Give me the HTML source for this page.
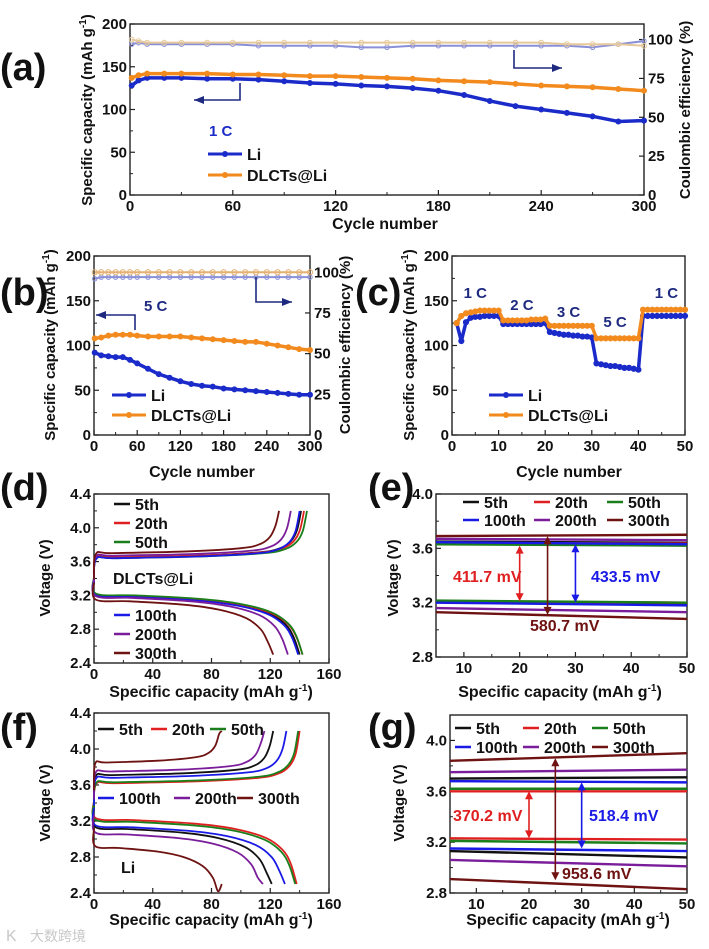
<!DOCTYPE html>
<html><head><meta charset="utf-8"><title>Battery cycling figure</title>
<style>
html,body{margin:0;padding:0;background:#fff;}
svg{display:block;font-family:"Liberation Sans",Arial,sans-serif;font-weight:bold;}
</style></head>
<body>
<svg id="chart" width="709" height="949" viewBox="0 0 709 949" xmlns="http://www.w3.org/2000/svg"></svg>
<script>
// ---------- data ----------
const aCycles=[1,5,10,20,30,45,60,75,90,105,120,135,150,165,180,195,210,225,240,255,270,285,300];
const aLi=[128,134,137,137,137,136,136,135,133,131,130,128,127,125,122,117,110,104,100,96,92,86,87];
const aDL=[137,140,142,142,142,142,141,141,140,139,139,138,137,136,134,133,132,130,128,127,126,124,122];
const aLiCE=[97,98,97,97,97,97,97,96,96,96,96,95,95,96,96,96,96,96,96,96,95,97,99];
const aDLCE=[100,99,98,98,98,98,98,98,98,98,98,98,98,98,98,98,98,98,98,97,97,97,96];
const bCycles=[1,10,20,30,40,50,60,75,90,105,120,135,150,165,180,195,210,225,240,255,270,285,300];
const bLi=[92,89,88,87,87,84,80,74,68,64,60,57,55,54,52,51,50,49,48,47,46,45,45];
const bDL=[108,109,111,112,112,112,111,110,110,110,110,109,108,107,106,105,104,104,102,100,98,96,95];
const bLiCE=[96,97,97,97,97,97,97,97,97,97,97,97,97,97,97,97,97,97,97,97,97,97,97];
const bDLCE=[100,100,100,100,100,100,100,100,100,100,100,100,100,100,100,100,100,100,100,100,100,100,100];
const cLi=[125,105,126,131,132,132,133,133,133,133,124,124,124,124,124,124,124,124,124,125,115,114,113,112,112,111,111,110,110,109,80,79,78,77,77,76,75,75,74,73,133,133,133,133,133,133,133,133,133,133];
const cDL=[125,133,136,137,138,139,139,139,139,139,128,128,128,128,128,128,129,129,129,130,122,122,122,122,122,122,122,122,122,122,108,108,108,108,108,108,108,108,108,108,140,140,140,140,140,140,140,140,140,140];
const cRateLabels=['1 C','2 C','3 C','5 C','1 C'];
const cycleNames=['5th','20th','50th','100th','200th','300th'];
const dChargeQ=[141,143,145,140,134,126];
const dChargeV=[3.64,3.64,3.63,3.63,3.66,3.69];
const dDisQ=[140,142,142,139,132,122];
const dDisV=[3.21,3.21,3.22,3.20,3.19,3.15];
const fChargeQ=[122,140,139,131,116,87];
const fChargeV=[3.70,3.61,3.62,3.67,3.74,3.84];
const fDisQ=[121,138,137,130,115,87];
const fDisV=[3.13,3.23,3.21,3.15,3.07,2.92];
const eUpStart=[3.65,3.64,3.63,3.645,3.67,3.69];
const eUpEnd=[3.64,3.635,3.62,3.63,3.66,3.70];
const eLoStart=[3.205,3.21,3.215,3.20,3.16,3.13];
const eLoEnd=[3.19,3.20,3.20,3.18,3.13,3.08];
const gUpStart=[3.70,3.60,3.62,3.68,3.75,3.84];
const gUpEnd=[3.71,3.60,3.62,3.67,3.77,3.90];
const gLoStart=[3.13,3.23,3.21,3.15,3.06,2.91];
const gLoEnd=[3.08,3.22,3.19,3.13,3.01,2.83];
const eArrowX=[20,25,30];
const eArrowTop=[3.62,3.69,3.63];
const eArrowBot=[3.21,3.11,3.20];
const eArrowLabel=['411.7 mV','580.7 mV','433.5 mV'];
const gArrowX=[20,25,30];
const gArrowTop=[3.60,3.86,3.67];
const gArrowBot=[3.23,2.90,3.15];
const gArrowLabel=['370.2 mV','958.6 mV','518.4 mV'];

// ---------- helpers ----------
const NS='http://www.w3.org/2000/svg';
const svg=document.getElementById('chart');
const COLORS=['#111111','#e02020','#1a7f1a','#1a1ae6','#7a1d9a','#6e1212'];
const BLUE='#1b2bc9', ORANGE='#f28a1e', NAVY='#1e2a80';
function mk(tag,attrs,parent){const e=document.createElementNS(NS,tag);for(const k in attrs)e.setAttribute(k,attrs[k]);(parent||svg).appendChild(e);return e;}
function text(x,y,s,size,anchor,fill,parent){const t=mk('text',{x:x,y:y,'font-size':size,'text-anchor':anchor||'start',fill:fill||'#111'},parent);t.textContent=s;return t;}
function axes(P,g){
  const X=v=>P.l+(v-P.xmin)/(P.xmax-P.xmin)*(P.r-P.l);
  const Y=v=>P.b-(v-P.ymin)/(P.ymax-P.ymin)*(P.b-P.t);
  const fr=mk('rect',{x:P.l,y:P.t,width:P.r-P.l,height:P.b-P.t,fill:'none',stroke:'#222','stroke-width':1.4},g);
  
  
  P.xt.forEach((v,i)=>{
    mk('line',{x1:X(v),x2:X(v),y1:P.b,y2:P.b-5,stroke:'#222','stroke-width':1.2},g);
    if(i<P.xt.length-1){const m=X((v+P.xt[i+1])/2);mk('line',{x1:m,x2:m,y1:P.b,y2:P.b-3,stroke:'#222','stroke-width':1},g);}
    const t=text(X(v),P.b+16,P.xfmt?P.xfmt(v):String(v),15,'middle','#111',g);
    
    
  });
  P.yt.forEach((v,i)=>{
    mk('line',{x1:P.l,x2:P.l+5,y1:Y(v),y2:Y(v),stroke:'#222','stroke-width':1.2},g);
    if(i<P.yt.length-1){const m=Y((v+P.yt[i+1])/2);mk('line',{x1:P.l,x2:P.l+3,y1:m,y2:m,stroke:'#222','stroke-width':1},g);}
    const t=text(P.l-3,Y(v)+5,P.yfmt?P.yfmt(v):String(v),15,'end','#111',g);
    
    
  });
  return {X,Y};
}
function vtitle(x,y,s,sup,after,g){
  const t=mk('text',{x:0,y:0,'font-size':15,'text-anchor':'middle',fill:'#111',transform:`translate(${x},${y}) rotate(-90)`},g);
  t.appendChild(document.createTextNode(s));
  if(sup){const sp=mk('tspan',{dy:-6,'font-size':10},t);sp.textContent=sup;const sp2=mk('tspan',{dy:6},t);sp2.textContent=after;}
  
  
  return t;
}
function htitle(x,y,s,sup,after,g){
  const t=mk('text',{x:x,y:y,'font-size':16,'text-anchor':'middle',fill:'#111'},g);
  t.appendChild(document.createTextNode(s));
  if(sup){const sp=mk('tspan',{dy:-6,'font-size':10},t);sp.textContent=sup;const sp2=mk('tspan',{dy:6},t);sp2.textContent=after;}
  
  
  return t;
}
function panelLetter(x,y,s){
  const t=text(x,y,s,38,'start','#111');
  
  
}
function smoothPath(pts){
  let d=`M${pts[0][0]},${pts[0][1]}`;
  for(let i=0;i<pts.length-1;i++){
    const p0=pts[Math.max(0,i-1)],p1=pts[i],p2=pts[i+1],p3=pts[Math.min(pts.length-1,i+2)];
    const c1=[p1[0]+(p2[0]-p0[0])/6,p1[1]+(p2[1]-p0[1])/6];
    const c2=[p2[0]-(p3[0]-p1[0])/6,p2[1]-(p3[1]-p1[1])/6];
    d+=` C${c1[0]},${c1[1]} ${c2[0]},${c2[1]} ${p2[0]},${p2[1]}`;
  }
  return d;
}
function series(xs,ys,X,Y,color,r,g,name,hollow){
  const pts=xs.map((c,i)=>[X(c),Y(ys[i])]);
  const pl=mk('polyline',{points:pts.map(p=>p.join(',')).join(' '),fill:'none',stroke:color,'stroke-width':hollow?2:3.5,'stroke-linejoin':'round'},g);
  
  
  pts.forEach(p=>{
    const c=mk('circle',{cx:p[0],cy:p[1],r:r,fill:hollow?'none':color,stroke:color,'stroke-width':1},g);
    
    
  });
}
function arrowV(x,y1,y2,color,g){
  mk('line',{x1:x,x2:x,y1:y1+6,y2:y2-6,stroke:color,'stroke-width':1.6},g);
  mk('polygon',{points:`${x},${y1} ${x-4},${y1+8} ${x+4},${y1+8}`,fill:color},g);
  mk('polygon',{points:`${x},${y2} ${x-4},${y2-8} ${x+4},${y2-8}`,fill:color},g);
}
function legendItem(x,y,len,color,label,g,lw,marker){
  mk('line',{x1:x,x2:x+len,y1:y,y2:y,stroke:color,'stroke-width':lw||2.5},g);
  if(marker){mk('circle',{cx:x+len/2,cy:y,r:3,fill:color},g);}
  const t=text(x+len+5,y+6,label,16,'start','#111',g);
  
  
}
function elbowArrow(pts,g){
  const pl=mk('polyline',{points:pts.map(p=>p.join(',')).join(' '),fill:'none',stroke:NAVY,'stroke-width':1.6},g);
  
  
  const a=pts[pts.length-2],b=pts[pts.length-1];const dir=Math.sign(b[0]-a[0]);
  mk('polygon',{points:`${b[0]},${b[1]} ${b[0]-dir*10},${b[1]-4} ${b[0]-dir*10},${b[1]+4}`,fill:NAVY},g);
}

// ---------- panel a ----------
{
const g=mk('g',{});


const P={l:130,r:644,t:24,b:195,xmin:0,xmax:300,ymin:0,ymax:200,xt:[0,60,120,180,240,300],yt:[0,50,100,150,200]};
const {X,Y}=axes(P,g);
const Yr=v=>P.b-v/110*(P.b-P.t);
[0,25,50,75,100].forEach(v=>{mk('line',{x1:P.r,x2:P.r-5,y1:Yr(v),y2:Yr(v),stroke:'#222','stroke-width':1.2},g);const t=text(P.r+4,Yr(v)+5,String(v),15,'start','#111',g);});
series(aCycles,aLiCE,X,Yr,'#8a90d8',2.2,g,'li-ce',true);
series(aCycles,aDLCE,X,Yr,'#e6c99a',2.4,g,'dlcts-ce',true);
series(aCycles,aLi,X,Y,BLUE,2.5,g,'li-capacity');
series(aCycles,aDL,X,Y,ORANGE,2.5,g,'dlcts-capacity');
elbowArrow([[240,83],[240,100],[194,100]],g);
elbowArrow([[514,50],[514,68],[562,68]],g);
const rc=text(209,136,'1 C',15,'start',BLUE,g);
legendItem(208,154,34,BLUE,'Li',g,3,true);
legendItem(208,175,34,ORANGE,'DLCTs@Li',g,3,true);
vtitle(92,110,'Specific capacity (mAh g','-1',')',g);
vtitle(690,110,'Coulombic efficiency (%)',null,null,g);
htitle(385,229,'Cycle number',null,null,g);
}
panelLetter(0,80,'(a)');

// ---------- panel b ----------
{
const g=mk('g',{});


const P={l:94,r:310,t:256,b:435,xmin:0,xmax:300,ymin:0,ymax:200,xt:[0,60,120,180,240,300],yt:[0,50,100,150,200]};
const {X,Y}=axes(P,g);
const Yr=v=>P.b-v/110*(P.b-P.t);
[0,25,50,75,100].forEach(v=>{mk('line',{x1:P.r,x2:P.r-5,y1:Yr(v),y2:Yr(v),stroke:'#222','stroke-width':1.2},g);const t=text(P.r+4,Yr(v)+5,String(v),15,'start','#111',g);});
series(bCycles,bLiCE,X,Yr,'#8a90d8',2.2,g,'li-ce',true);
series(bCycles,bDLCE,X,Yr,'#e6b070',2.6,g,'dlcts-ce',true);
series(bCycles,bLi,X,Y,BLUE,2.5,g,'li-capacity');
series(bCycles,bDL,X,Y,ORANGE,2.5,g,'dlcts-capacity');
elbowArrow([[135,330],[135,315],[96,315]],g);
elbowArrow([[256,277],[256,302],[292,302]],g);
const rc=text(144,311,'5 C',15,'start',NAVY,g);
legendItem(112,395,34,BLUE,'Li',g,3,true);
legendItem(112,415,34,ORANGE,'DLCTs@Li',g,3,true);
vtitle(55,345,'Specific capacity (mAh g','-1',')',g);
vtitle(350,345,'Coulombic efficiency (%)',null,null,g);
htitle(202,477,'Cycle number',null,null,g);
}
panelLetter(0,305,'(b)');

// ---------- panel c ----------
{
const g=mk('g',{});


const P={l:452,r:685,t:256,b:435,xmin:0,xmax:50,ymin:0,ymax:200,xt:[0,10,20,30,40,50],yt:[0,50,100,150,200]};
const {X,Y}=axes(P,g);
const cyc=cLi.map((_,i)=>i+1);
series(cyc,cLi,X,Y,BLUE,2.6,g,'li-rate');
series(cyc,cDL,X,Y,ORANGE,2.6,g,'dlcts-rate');
const rateX=[5,15,25,35,46];
const rateY=[298,310,317,327,298];
cRateLabels.forEach((s,i)=>{const t=text(X(rateX[i]),rateY[i],s,15,'middle',NAVY,g);});
legendItem(489,395,34,BLUE,'Li',g,3,true);
legendItem(489,415,34,ORANGE,'DLCTs@Li',g,3,true);
vtitle(414,345,'Specific capacity (mAh g','-1',')',g);
htitle(569,477,'Cycle number',null,null,g);
}
panelLetter(355,305,'(c)');

// ---------- voltage profile panels d & f ----------
const chF=[0,0.01,0.1,0.5,0.8,0.9,0.95,0.98,1.0];
const chD=[-0.3,0,0.01,0.03,0.07,0.12,0.2,0.33];
const dsF=[0,0.01,0.2,0.5,0.7,0.85,0.93,0.97,1.0];
const dsD=[0.2,0,-0.02,-0.06,-0.12,-0.22,-0.35,-0.5];
function profiles(P,g,cQ,cV,dQ,dV){
  const {X,Y}=axes(P,g);
  cycleNames.forEach((n,i)=>{
    const cp=chF.map((f,k)=>[X(f*cQ[i]),Y(k<chD.length?cV[i]+chD[k]:4.2)]);
    const p1=mk('path',{d:smoothPath(cp),fill:'none',stroke:COLORS[i],'stroke-width':1.8},g);
    
    
    const dp=dsF.map((f,k)=>[X(f*dQ[i]),Y(k<dsD.length?dV[i]+dsD[k]:2.5)]);
    const p2=mk('path',{d:smoothPath(dp),fill:'none',stroke:COLORS[i],'stroke-width':1.8},g);
    
    
  });
}
{
const g=mk('g',{});


const P={l:94,r:329,t:494,b:663,xmin:0,xmax:160,ymin:2.4,ymax:4.4,xt:[0,40,80,120,160],yt:[2.4,2.8,3.2,3.6,4.0,4.4],yfmt:v=>v.toFixed(1)};
profiles(P,g,dChargeQ,dChargeV,dDisQ,dDisV);
const ly=[504,523,542,615,634,653];
cycleNames.forEach((n,i)=>legendItem(114,ly[i],16,COLORS[i],n,g,2.5));
const t=text(113,584,'DLCTs@Li',16,'start','#111',g);
vtitle(50,578,'Voltage (V)',null,null,g);
htitle(211,697,'Specific capacity (mAh g','-1',')',g);
}
panelLetter(0,500,'(d)');
{
const g=mk('g',{});


const P={l:94,r:329,t:713,b:893,xmin:0,xmax:160,ymin:2.4,ymax:4.4,xt:[0,40,80,120,160],yt:[2.4,2.8,3.2,3.6,4.0,4.4],yfmt:v=>v.toFixed(1)};
profiles(P,g,fChargeQ,fChargeV,fDisQ,fDisV);
const lx=[98,151,210,98,174,237];
const ly=[729,729,729,798,798,798];
cycleNames.forEach((n,i)=>legendItem(lx[i],ly[i],16,COLORS[i],n,g,2.5));
const t=text(121,873,'Li',16,'start','#111',g);
vtitle(50,803,'Voltage (V)',null,null,g);
htitle(211,925,'Specific capacity (mAh g','-1',')',g);
}
panelLetter(0,740,'(f)');

// ---------- zoomed panels e & g ----------
function zoomPanel(P,g,us,ue,ls,le,ax,at,ab,al,labPos,leg){
  const {X,Y}=axes(P,g);
  cycleNames.forEach((n,i)=>{
    const l1=mk('line',{x1:X(P.xmin),x2:X(P.xmax),y1:Y(us[i]),y2:Y(ue[i]),stroke:COLORS[i],'stroke-width':2.4},g);
    
    
    const l2=mk('line',{x1:X(P.xmin),x2:X(P.xmax),y1:Y(ls[i]),y2:Y(le[i]),stroke:COLORS[i],'stroke-width':2.4},g);
    
    
  });
  const ac=[COLORS[1],COLORS[5],COLORS[3]];
  ax.forEach((x,i)=>{
    arrowV(X(x),Y(at[i]),Y(ab[i]),ac[i],g);
    const t=text(labPos[i][0],labPos[i][1],al[i],16,'start',ac[i],g);
    
    
  });
  cycleNames.forEach((n,i)=>legendItem(leg.x[i%3],leg.y[Math.floor(i/3)],16,COLORS[i],n,g,2.5));
}
{
const g=mk('g',{});


const P={l:436,r:687,t:494,b:657,xmin:5,xmax:50,ymin:2.8,ymax:4.0,xt:[10,20,30,40,50],yt:[2.8,3.2,3.6,4.0],yfmt:v=>v.toFixed(1)};
zoomPanel(P,g,eUpStart,eUpEnd,eLoStart,eLoEnd,eArrowX,eArrowTop,eArrowBot,eArrowLabel,[[453,582],[530,631],[591,582]],{x:[463,534,607],y:[502,520]});
vtitle(398,578,'Voltage (V)',null,null,g);
htitle(560,697,'Specific capacity (mAh g','-1',')',g);
}
panelLetter(368,500,'(e)');
{
const g=mk('g',{});


const P={l:450,r:687,t:715,b:893,xmin:5,xmax:50,ymin:2.8,ymax:4.2,xt:[10,20,30,40,50],yt:[2.8,3.2,3.6,4.0],yfmt:v=>v.toFixed(1)};
zoomPanel(P,g,gUpStart,gUpEnd,gLoStart,gLoEnd,gArrowX,gArrowTop,gArrowBot,gArrowLabel,[[453,821],[562,879],[589,821]],{x:[455,523,592],y:[728,747]});
vtitle(404,803,'Voltage (V)',null,null,g);
htitle(568,925,'Specific capacity (mAh g','-1',')',g);
}
panelLetter(368,740,'(g)');

// watermark
const wm=mk('text',{x:30,y:941,'font-size':14,fill:'#c8c8c8','font-family':'"Liberation Sans","Noto Sans CJK SC",sans-serif','font-weight':'normal'});
wm.textContent='大数跨境';


const wl=mk('text',{x:6,y:941,'font-size':16,fill:'#c8c8c8','font-weight':'normal'});
wl.textContent='K';


</script>
</body></html>
